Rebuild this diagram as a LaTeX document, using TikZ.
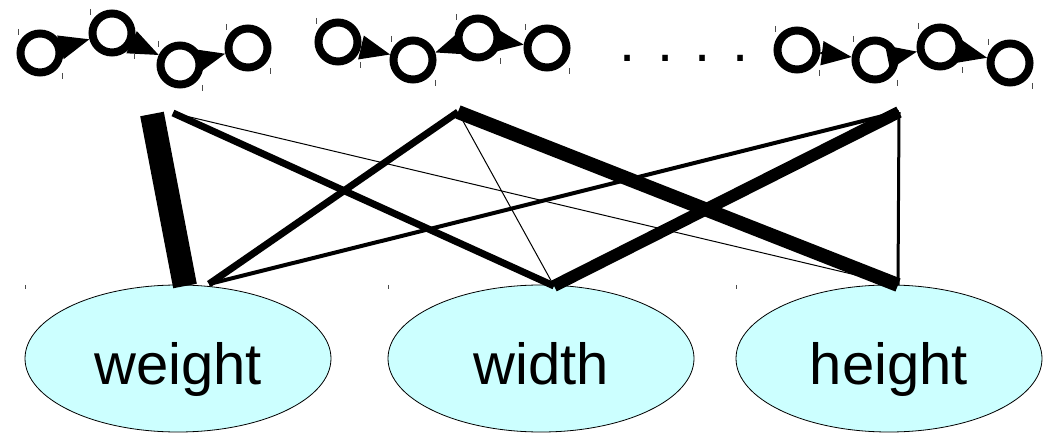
\documentclass[tikz,border=0pt]{standalone}
\usepackage{fontspec}
\setmainfont{Liberation Sans}
\usepackage{xcolor}
\usetikzlibrary{arrows.meta,shapes.geometric}
\definecolor{attrcyan}{HTML}{CCFFFF}
\tikzset{
  ring/.style={circle,draw,line width=8pt,minimum size=39pt,inner sep=0pt},
  link/.style={line width=2pt,-{Triangle[length=30pt,width=24pt]}},
  attr/.style={ellipse,draw,fill=attrcyan,line width=0.8pt,minimum width=306pt,
    minimum height=147pt,inner sep=0pt,text height=51pt,text depth=0pt,
    font=\fontsize{58}{60}\selectfont},
  bboxtick/.style={line width=0.6pt,black!70}
}
\begin{document}
\begin{tikzpicture}[x=1pt,y=-1pt]
\useasboundingbox (0,0) rectangle (1049,438);
%----------------rantai atas----------
\node[ring] (a1) at (40,53) {};
\node[ring] (a2) at (112,33) {};
\node[ring] (a3) at (180,65) {};
\node[ring] (a4) at (248,48) {};
\draw[link] (a1) -- (a2);
\draw[link] (a2) -- (a3);
\draw[link] (a3) -- (a4);

\node[ring] (b1) at (338,42) {};
\node[ring] (b2) at (413,60) {};
\node[ring] (b3) at (478,38) {};
\node[ring] (b4) at (547,48) {};
\draw[link] (b1) -- (b2);
\draw[link] (b3) -- (b2);
\draw[link] (b3) -- (b4);

\node[ring] (c1) at (797,50) {};
\node[ring] (c2) at (875,60) {};
\node[ring] (c3) at (940,47) {};
\node[ring] (c4) at (1010,63) {};
\draw[link] (c1) -- (c2);
\draw[link] (c2) -- (c3);
\draw[link] (c3) -- (c4);

\foreach \c in {a1,a2,a3,a4,b1,b2,b3,b4,c1,c2,c3,c4}{
  \draw[bboxtick] ([shift={(-22,-24)}]\c.center) -- ++(0,6);
  \draw[bboxtick] ([shift={(22,20)}]\c.center) -- ++(0,6);
}

\node[anchor=base,font=\fontsize{58}{60}\selectfont] (dots) at (684,62) {. . . .};

%----------------atribut----------
\node[attr] (weight) at (178,358.5) {weight};
\node[attr] (width) at (541,358.5) {width};
\node[attr] (height) at (889,358.5) {height};
\foreach \e in {weight,width,height}
  \draw[bboxtick] ([shift={(-153,-73.5)}]\e.center) -- ++(0,4);

%----------------bobot----------
\coordinate (t1) at (152,114);
\coordinate (t2) at (173,113);
\coordinate (t3) at (458,112);
\coordinate (t4) at (899,112);
\coordinate (e1) at (185,286);
\coordinate (e2) at (209,284);
\coordinate (e3) at (554,286);
\coordinate (e4) at (898,285);
\foreach \p/\q/\w in {t1/e1/24,t2/e3/7,t2/e4/1,t3/e2/7,t3/e3/1,t3/e4/14,t4/e2/4,t4/e3/12,t4/e4/3}
  \draw[line width=\w pt] (\p) -- (\q);
\end{tikzpicture}
\end{document}
